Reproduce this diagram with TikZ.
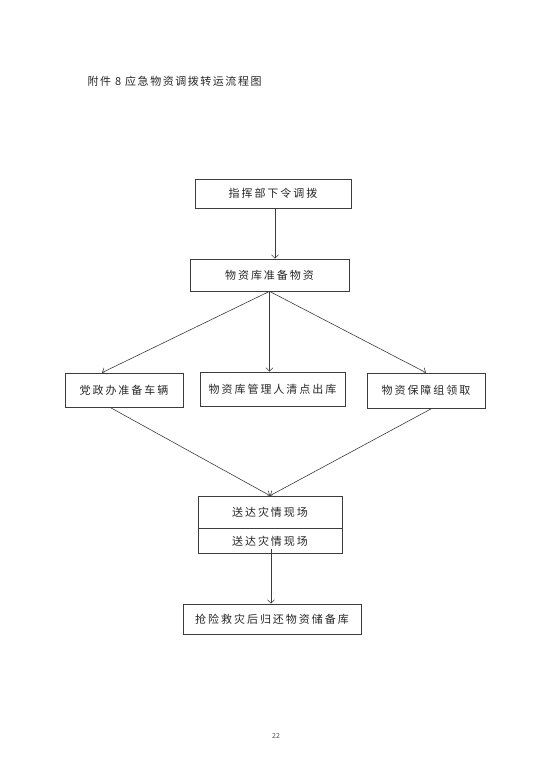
\documentclass[tikz,border=0pt]{standalone}
\usepackage{fontspec}
\setmainfont{Noto Sans CJK SC}
\usepackage{tikz}
\usetikzlibrary{arrows.meta,positioning}
\definecolor{ink}{RGB}{60,60,60}

\begin{document}
\begin{tikzpicture}[x=1pt,y=-1pt,
  flowbox/.style={rectangle, draw=ink, line width=0.7pt, minimum width=#1,
              inner sep=0pt, font=\fontsize{11}{13}\selectfont\addfontfeature{LetterSpace=18},
              text=black!85},
  link/.style={draw=ink, line width=0.6pt, -{Straight Barb[length=3.5pt,width=7pt]}}
]
  \useasboundingbox (0,0) rectangle (554,784);

  % title and page number
  \node[anchor=west, font=\fontsize{11}{13}\selectfont\addfontfeature{LetterSpace=14},
        text=black!85] (title) at (84,81) {附件 8 应急物资调拨转运流程图};
  \node[font=\fontsize{7}{8}\selectfont, text=black!70] (pageno) at (276,736) {22};

  % main chain
  \node[flowbox=156pt, minimum height=29pt] (order) at (273,193.5) {指挥部下令调拨};
  \node[flowbox=159pt, minimum height=32pt] (prep) at (269.5,275) {物资库准备物资};

  % three branches
  \node[flowbox=118pt, minimum height=34pt] (car) at (124,390) {党政办准备车辆};
  \node[flowbox=145pt, minimum height=34pt] (count) at (272.5,389) {物资库管理人清点出库};
  \node[flowbox=118pt, minimum height=35pt] (take) at (426,390.5) {物资保障组领取};

  % delivery box, split in two
  \node[flowbox=144pt, minimum height=32pt] (send) at (270,512) {送达灾情现场};
  \node[flowbox=144pt, minimum height=25pt, below=0pt of send] (sendb) {送达灾情现场};

  \node[flowbox=178pt, minimum height=30pt] (back) at (272,619) {抢险救灾后归还物资储备库};

  % connectors
  \draw[link] ([xshift=2pt]order.south) -- ([xshift=2pt]order.south |- prep.north);
  \draw[link] (prep.south) -- ([xshift=-22pt]car.north);
  \draw[link] (prep.south) -- (prep.south |- count.north);
  \draw[link] (prep.south) -- (take.north);
  \draw[link] ([xshift=-14pt]car.south) -- (send.north);
  \draw[link] ([xshift=6pt]take.south) -- (send.north);
  \draw[link] ([xshift=1pt,yshift=5pt]sendb.south) -- ([xshift=1pt]sendb.south |- back.north);
\end{tikzpicture}
\end{document}
